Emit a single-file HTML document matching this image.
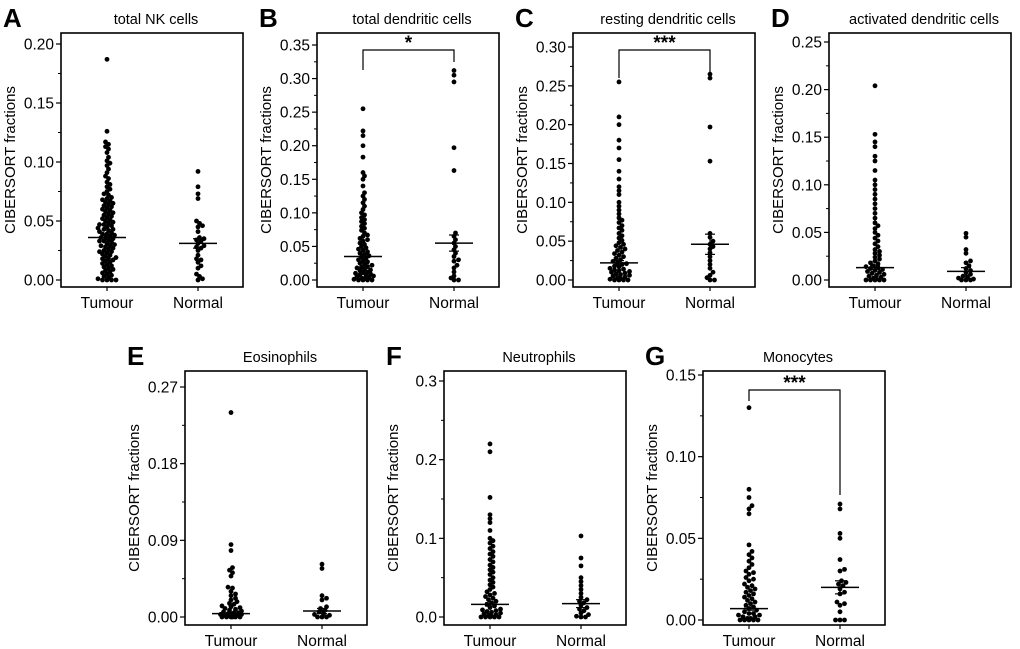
<!DOCTYPE html>
<html><head><meta charset="utf-8"><style>
html,body{margin:0;padding:0;background:#fff}
svg{display:block}
text{font-family:"Liberation Sans",Arial,sans-serif;fill:#000}
</style></head><body>
<svg id="fig" width="1020" height="649" viewBox="0 0 1020 649" xmlns="http://www.w3.org/2000/svg"></svg>
<script>
// ---- data (CIBERSORT fractions) ----
const categories = ["Tumour","Normal"];
const aTumour=[0.187,0.126,0.117,0.115,0.113,0.111,0.108,0.104,0.101,0.099,0.097,0.094,0.091,0.088,0.086,0.083,0.081,0.079,0.077,0.075,0.073,0.072,0.07,0.069,0.068,0.067,0.066,0.065,0.064,0.063,0.062,0.061,0.06,0.059,0.058,0.057,0.056,0.055,0.054,0.053,0.052,0.051,0.05,0.049,0.048,0.047,0.047,0.046,0.045,0.044,0.043,0.043,0.042,0.041,0.04,0.039,0.039,0.038,0.037,0.036,0.036,0.035,0.034,0.033,0.033,0.032,0.031,0.03,0.029,0.029,0.028,0.027,0.026,0.025,0.024,0.024,0.023,0.022,0.021,0.02,0.019,0.018,0.018,0.017,0.016,0.015,0.014,0.013,0.012,0.011,0.01,0.009,0.008,0.007,0.006,0.005,0.004,0.003,0.002,0.001,0,0,0,0];
const aNormal=[0.092,0.079,0.073,0.069,0.05,0.048,0.046,0.045,0.041,0.036,0.035,0.034,0.033,0.031,0.029,0.028,0.027,0.025,0.021,0.018,0.017,0.015,0.012,0.01,0.005,0.003,0.001,0];
const bTumour=[0.255,0.222,0.215,0.2,0.183,0.16,0.155,0.15,0.14,0.13,0.125,0.12,0.115,0.11,0.105,0.1,0.097,0.093,0.09,0.087,0.084,0.08,0.077,0.074,0.07,0.067,0.065,0.062,0.06,0.058,0.055,0.053,0.05,0.048,0.046,0.044,0.042,0.04,0.038,0.036,0.034,0.032,0.03,0.028,0.027,0.025,0.023,0.022,0.02,0.019,0.018,0.016,0.015,0.014,0.012,0.011,0.01,0.009,0.008,0.007,0.006,0.005,0.004,0.003,0.002,0.001,0,0,0,0];
const bNormal=[0.312,0.305,0.295,0.197,0.163,0.07,0.065,0.06,0.055,0.05,0.045,0.04,0.035,0.03,0.028,0.022,0.018,0.012,0.006,0.003,0,0];
const cTumour=[0.255,0.21,0.2,0.18,0.17,0.155,0.14,0.13,0.12,0.115,0.11,0.1,0.095,0.09,0.085,0.08,0.077,0.074,0.07,0.067,0.064,0.06,0.057,0.054,0.051,0.048,0.046,0.044,0.042,0.04,0.038,0.036,0.034,0.032,0.03,0.028,0.026,0.024,0.022,0.021,0.02,0.018,0.017,0.015,0.014,0.013,0.012,0.011,0.01,0.009,0.008,0.007,0.006,0.005,0.004,0.003,0.002,0.001,0,0,0,0];
const cNormal=[0.265,0.26,0.197,0.153,0.06,0.055,0.05,0.046,0.043,0.04,0.035,0.03,0.025,0.02,0.015,0.01,0.006,0.003,0,0];
const dTumour=[0.204,0.153,0.145,0.14,0.13,0.125,0.115,0.105,0.1,0.095,0.09,0.085,0.08,0.075,0.07,0.065,0.06,0.057,0.054,0.05,0.047,0.044,0.041,0.038,0.035,0.032,0.03,0.028,0.026,0.024,0.022,0.02,0.018,0.017,0.015,0.014,0.013,0.012,0.011,0.01,0.009,0.008,0.007,0.006,0.005,0.004,0.003,0.002,0.001,0,0,0,0,0];
const dNormal=[0.049,0.045,0.032,0.028,0.02,0.018,0.015,0.012,0.01,0.008,0.006,0.004,0.003,0.002,0.001,0,0,0];
const eTumour=[0.24,0.085,0.078,0.058,0.055,0.052,0.048,0.035,0.034,0.03,0.027,0.025,0.022,0.02,0.018,0.016,0.015,0.013,0.012,0.011,0.01,0.009,0.008,0.007,0.006,0.005,0.005,0.004,0.004,0.003,0.003,0.002,0.002,0.001,0.001,0,0,0,0,0,0];
const eNormal=[0.062,0.057,0.025,0.022,0.02,0.012,0.01,0.008,0.006,0.004,0.003,0.002,0,0,0];
const fTumour=[0.22,0.21,0.152,0.13,0.125,0.12,0.11,0.1,0.097,0.094,0.09,0.087,0.083,0.08,0.077,0.073,0.07,0.066,0.063,0.06,0.057,0.054,0.05,0.047,0.044,0.041,0.038,0.035,0.032,0.03,0.028,0.026,0.024,0.022,0.02,0.018,0.016,0.014,0.012,0.01,0.009,0.008,0.007,0.006,0.005,0.004,0.003,0.002,0.001,0,0,0,0,0];
const fNormal=[0.103,0.075,0.065,0.05,0.045,0.04,0.035,0.03,0.025,0.022,0.02,0.018,0.015,0.012,0.01,0.008,0.005,0.003,0.001,0,0];
const gTumour=[0.13,0.08,0.075,0.07,0.068,0.065,0.046,0.042,0.04,0.038,0.036,0.034,0.032,0.03,0.029,0.028,0.026,0.025,0.024,0.022,0.021,0.02,0.019,0.018,0.017,0.016,0.015,0.014,0.013,0.012,0.011,0.01,0.009,0.008,0.007,0.006,0.005,0.004,0.004,0.003,0.003,0.002,0.002,0.001,0.001,0,0,0,0,0];
const gNormal=[0.071,0.068,0.053,0.05,0.037,0.031,0.03,0.024,0.023,0.022,0.021,0.019,0.017,0.016,0.011,0.01,0.009,0.005,0,0,0];
const means=[[0.036,0.031],[0.035,0.055],[0.022,0.046],[0.013,0.009],[0.004,0.007],[0.016,0.017],[0.007,0.020]];
const sems=[[0.002,0.004],[0.003,0.012],[0.003,0.013],[0.002,0.004],[0.001,0.003],[0.002,0.005],[0.001,0.004]];
const aTicks=[0,0.05,0.10,0.15,0.20], aTickLabels=["0.00","0.05","0.10","0.15","0.20"];
const bTicks=[0,0.05,0.10,0.15,0.20,0.25,0.30,0.35], bTickLabels=["0.00","0.05","0.10","0.15","0.20","0.25","0.30","0.35"];
const cTicks=[0,0.05,0.10,0.15,0.20,0.25,0.30], cTickLabels=["0.00","0.05","0.10","0.15","0.20","0.25","0.30"];
const dTicks=[0,0.05,0.10,0.15,0.20,0.25], dTickLabels=["0.00","0.05","0.10","0.15","0.20","0.25"];
const eTicks=[0,0.09,0.18,0.27], eTickLabels=["0.00","0.09","0.18","0.27"];
const fTicks=[0,0.1,0.2,0.3], fTickLabels=["0.0","0.1","0.2","0.3"];
const gTicks=[0,0.05,0.10,0.15], gTickLabels=["0.00","0.05","0.10","0.15"];
const titles=["total NK cells","total dendritic cells","resting dendritic cells","activated dendritic cells","Eosinophils","Neutrophils","Monocytes"];
const letters=["A","B","C","D","E","F","G"];
const sigLabels=["","*","***","","","","***"];

const NS="http://www.w3.org/2000/svg";
const svg=document.getElementById('fig');
function mk(tag,attrs,parent){const e=document.createElementNS(NS,tag);for(const k in attrs)e.setAttribute(k,attrs[k]);(parent||svg).appendChild(e);return e;}

const layouts=[
 {L:61,T:33,y0:280,yT:44,ticks:aTicks,labs:aTickLabels,data:[aTumour,aNormal]},
 {L:317,T:33,y0:280,yT:45,ticks:bTicks,labs:bTickLabels,data:[bTumour,bNormal],sig:{y:50,l:70,r:62}},
 {L:573,T:33,y0:280,yT:47,ticks:cTicks,labs:cTickLabels,data:[cTumour,cNormal],sig:{y:50,l:78,r:78}},
 {L:829,T:33,y0:280,yT:42,ticks:dTicks,labs:dTickLabels,data:[dTumour,dNormal]},
 {L:185,T:371,y0:617,yT:387,ticks:eTicks,labs:eTickLabels,data:[eTumour,eNormal]},
 {L:444,T:371,y0:617,yT:381,ticks:fTicks,labs:fTickLabels,data:[fTumour,fNormal]},
 {L:703,T:371,y0:620,yT:375,ticks:gTicks,labs:gTickLabels,data:[gTumour,gNormal],sig:{y:390,l:401,r:495}}
];
const W=182,H=254,R=2.4,MAXOFF=[11,8];

layouts.forEach((p,i)=>{
  const g=mk('g',{});
  
  
  const tmax=p.ticks[p.ticks.length-1];
  const y=v=>p.y0-(v/tmax)*(p.y0-p.yT);
  const xc=[p.L+46,p.L+137];
  const t1=mk('text',{x:p.L-58,y:p.T-6,'font-size':26,'font-weight':'bold'},g);t1.textContent=letters[i];
  
  const t2=mk('text',{x:p.L+W/2+4,y:p.T-9,'font-size':14.5,'text-anchor':'middle'},g);t2.textContent=titles[i];
  
  const yl=mk('text',{x:0,y:0,'font-size':15,'text-anchor':'middle',transform:`translate(${p.L-46},${p.T+H/2}) rotate(-90)`},g);yl.textContent="CIBERSORT fractions";
  
  p.ticks.forEach((tv,k)=>{
    const yy=y(tv);
    mk('line',{x1:p.L-5,x2:p.L,y1:yy,y2:yy,stroke:'#000','stroke-width':1.2},g);
    const tl=mk('text',{x:p.L-7,y:yy+5.5,'font-size':15.5,'text-anchor':'end'},g);tl.textContent=p.labs[k];
    
    if(k<p.ticks.length-1){const ym=y((tv+p.ticks[k+1])/2);mk('line',{x1:p.L-3,x2:p.L,y1:ym,y2:ym,stroke:'#000','stroke-width':1},g);}
  });
  const box=mk('rect',{x:p.L,y:p.T,width:W,height:H,fill:'none',stroke:'#000','stroke-width':1.6},g);
  
  categories.forEach((c,ci)=>{
    mk('line',{x1:xc[ci],x2:xc[ci],y1:p.T+H,y2:p.T+H+4,stroke:'#000','stroke-width':1.2},g);
    const cl=mk('text',{x:xc[ci],y:p.T+H+21,'font-size':15.5,'text-anchor':'middle'},g);cl.textContent=c;
    
    const vals=p.data[ci].slice().sort((a,b)=>a-b);const placed=[];
    const mo=MAXOFF[ci];
    vals.forEach(v=>{
      const py=y(v);let best=xc[ci],bestD=-1;
      for(let s=0;s<40;s++){const off=(s%2?1:-1)*Math.ceil(s/2)*1.5;if(Math.abs(off)>mo)break;const cx=xc[ci]+off;
        let md=1e9;placed.forEach(q=>{const d=(q[0]-cx)**2+(q[1]-py)**2;if(d<md)md=d;});
        if(md>=(2*R*0.75)**2){best=cx;bestD=md;break;}
        if(md>bestD){bestD=md;best=cx;}}
      placed.push([best,py]);
      const d=mk('circle',{cx:best,cy:py,r:R,fill:'#000'},g);
      
    });
    const m=means[i][ci],se=sems[i][ci],ym=y(m);
    const ml=mk('line',{x1:xc[ci]-19,x2:xc[ci]+19,y1:ym,y2:ym,stroke:'#000','stroke-width':1.5},g);
    
    mk('line',{x1:xc[ci],x2:xc[ci],y1:y(m-se),y2:y(m+se),stroke:'#000','stroke-width':1.2},g);
    mk('line',{x1:xc[ci]-5,x2:xc[ci]+5,y1:y(m+se),y2:y(m+se),stroke:'#000','stroke-width':1.2},g);
    mk('line',{x1:xc[ci]-5,x2:xc[ci]+5,y1:y(m-se),y2:y(m-se),stroke:'#000','stroke-width':1.2},g);
  });
  if(p.sig){
    const br=mk('path',{d:`M${xc[0]},${p.sig.l}V${p.sig.y}H${xc[1]}V${p.sig.r}`,fill:'none',stroke:'#000','stroke-width':1.2},g);
    
    const st=mk('text',{x:(xc[0]+xc[1])/2,y:p.sig.y-1,'font-size':19,'font-weight':'bold','text-anchor':'middle'},g);st.textContent=sigLabels[i];
    
  }
});
</script>
</body></html>
